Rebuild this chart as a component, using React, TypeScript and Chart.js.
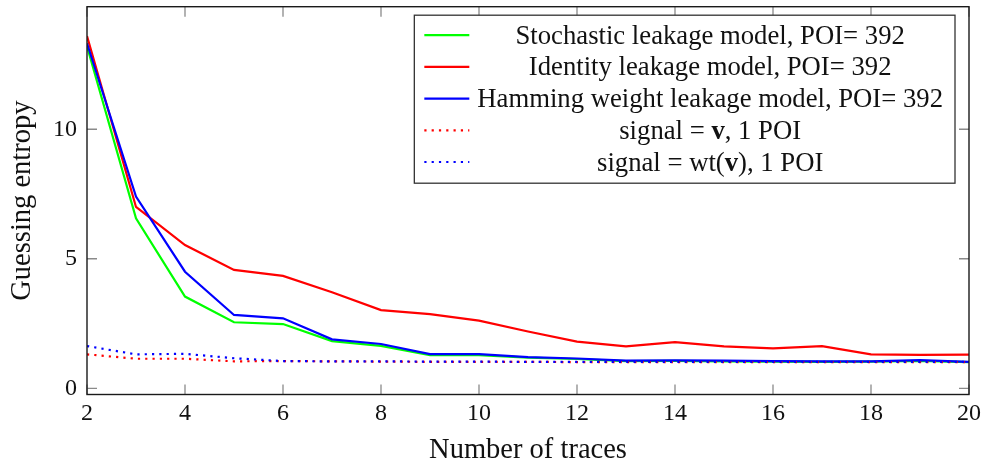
import React, { useEffect, useRef } from 'react';
import { Chart, registerables } from 'chart.js';

Chart.register(...registerables);

// ---- data ----
const traces = [2, 3, 4, 5, 6, 7, 8, 9, 10, 11, 12, 13, 14, 15, 16, 17, 18, 19, 20];
const stochastic = [13.2, 6.56, 3.54, 2.55, 2.48, 1.82, 1.64, 1.28, 1.28, 1.18, 1.13, 1.05, 1.06, 1.04, 1.03, 1.02, 1.03, 1.06, 1.01];
const identity = [13.6, 7.0, 5.53, 4.57, 4.34, 3.71, 3.02, 2.86, 2.61, 2.19, 1.8, 1.62, 1.78, 1.62, 1.54, 1.63, 1.31, 1.29, 1.3];
const hamming = [13.32, 7.4, 4.5, 2.83, 2.7, 1.89, 1.71, 1.32, 1.32, 1.2, 1.15, 1.07, 1.08, 1.07, 1.05, 1.04, 1.04, 1.09, 1.02];
const signalV = [1.31, 1.14, 1.14, 1.04, 1.05, 1.04, 1.03, 1.02, 1.02, 1.02, 1.01, 1.01, 1.01, 1.01, 1.01, 1.01, 1.01, 1.01, 1.01];
const signalWt = [1.63, 1.31, 1.33, 1.16, 1.05, 1.04, 1.04, 1.03, 1.03, 1.02, 1.02, 1.02, 1.02, 1.02, 1.02, 1.02, 1.02, 1.02, 1.02];
const seriesLabels = [
  'Stochastic leakage model, POI= 392',
  'Identity leakage model, POI= 392',
  'Hamming weight leakage model, POI= 392',
  'signal = **v**, 1 POI',
  'signal = wt(**v**), 1 POI',
];
const xTickValues = [2, 4, 6, 8, 10, 12, 14, 16, 18, 20];
const yTickValues = [0, 5, 10];
const xTitle = 'Number of traces';
const yTitle = 'Guessing entropy';

const FONT = '"Liberation Serif", "Times New Roman", serif';
const TEXT = '#111';

function segments(label: string) {
  return label.split('**').map((t, i) => ({ text: t, bold: i % 2 === 1 }));
}

const framePlugin = {
  id: 'pgfFrame',
  afterDatasetsDraw(chart: any) {
    const { ctx, chartArea: a, scales } = chart;
    ctx.save();
    ctx.strokeStyle = '#8a8a8a';
    ctx.lineWidth = 1.3;
    const len = 10;
    scales.x.ticks.forEach((t: any) => {
      const px = scales.x.getPixelForValue(t.value);
      ctx.beginPath();
      ctx.moveTo(px, a.bottom);
      ctx.lineTo(px, a.bottom - len);
      ctx.moveTo(px, a.top);
      ctx.lineTo(px, a.top + len);
      ctx.stroke();
    });
    scales.y.ticks.forEach((t: any) => {
      const py = scales.y.getPixelForValue(t.value);
      ctx.beginPath();
      ctx.moveTo(a.left, py);
      ctx.lineTo(a.left + len, py);
      ctx.moveTo(a.right, py);
      ctx.lineTo(a.right - len, py);
      ctx.stroke();
    });
    ctx.strokeStyle = '#1a1a1a';
    ctx.lineWidth = 1.4;
    ctx.strokeRect(a.left, a.top, a.right - a.left, a.bottom - a.top);
    ctx.restore();
  },
};

const legendPlugin = {
  id: 'pgfLegend',
  afterDraw(chart: any) {
    const { ctx, chartArea: a } = chart;
    const size = 26.7;
    const fN = `${size}px ${FONT}`;
    const fB = `bold ${size}px ${FONT}`;
    ctx.save();
    const rows = chart.data.datasets.map((ds: any) => {
      const segs = segments(ds.label);
      let w = 0;
      const parts = segs.map((s) => {
        ctx.font = s.bold ? fB : fN;
        const sw = ctx.measureText(s.text).width;
        const p = { ...s, w: sw };
        w += sw;
        return p;
      });
      return { ds, parts, w };
    });
    const maxW = Math.max(...rows.map((r: any) => r.w));
    const padL = 10;
    const sampleW = 45;
    const gap = 8;
    const padR = 12;
    const boxW = padL + sampleW + gap + maxW + padR;
    const boxRight = a.right - 14;
    const boxLeft = boxRight - boxW;
    const boxTop = a.top + 8.5;
    const rowH = 31.7;
    const boxH = 168;
    ctx.fillStyle = '#fff';
    ctx.fillRect(boxLeft, boxTop, boxW, boxH);
    ctx.strokeStyle = '#333';
    ctx.lineWidth = 1.3;
    ctx.strokeRect(boxLeft, boxTop, boxW, boxH);
    const textCenter = boxLeft + padL + sampleW + gap + maxW / 2;
    rows.forEach((r: any, i: number) => {
      const y = boxTop + 20 + i * rowH;
      ctx.strokeStyle = r.ds.borderColor;
      ctx.lineWidth = r.ds.borderWidth;
      ctx.setLineDash(r.ds.borderDash || []);
      ctx.beginPath();
      ctx.moveTo(boxLeft + padL, y);
      ctx.lineTo(boxLeft + padL + sampleW, y);
      ctx.stroke();
      ctx.setLineDash([]);
      ctx.fillStyle = TEXT;
      ctx.textBaseline = 'alphabetic';
      ctx.textAlign = 'left';
      let x = textCenter - r.w / 2;
      r.parts.forEach((p: any) => {
        ctx.font = p.bold ? fB : fN;
        ctx.fillText(p.text, x, y + 8.5);
        x += p.w;
      });
    });
    ctx.restore();
  },
};

export default function App() {
  const ref = useRef<HTMLCanvasElement | null>(null);
  useEffect(() => {
    if (!ref.current) return;
    const mk = (vals: number[]) => traces.map((x, i) => ({ x, y: vals[i] }));
    const colors = ['#00ff00', '#ff0000', '#0000ff', '#ff0000', '#0000ff'];
    const all = [stochastic, identity, hamming, signalV, signalWt];
    const datasets = all.map((vals, i) => ({
      label: seriesLabels[i],
      data: mk(vals),
      borderColor: colors[i],
      backgroundColor: colors[i],
      borderWidth: 2.2,
      borderDash: i >= 3 ? [2.2, 5.1] : [],
      pointRadius: 0,
      tension: 0,
      fill: false,
      order: 4 - i,
    }));
    const chart = new Chart(ref.current, {
      type: 'line',
      data: { datasets },
      plugins: [framePlugin, legendPlugin],
      options: {
        animation: false,
        responsive: false,
        devicePixelRatio: 1,
        layout: { padding: { top: 6.7, right: 15, left: 0, bottom: 0 } },
        plugins: { legend: { display: false }, tooltip: { enabled: false } },
        scales: {
          x: {
            type: 'linear',
            min: 2,
            max: 20,
            grid: { display: false, drawTicks: false },
            border: { display: false },
            afterBuildTicks: (s: any) => {
              s.ticks = xTickValues.map((v) => ({ value: v }));
            },
            afterFit: (s: any) => {
              s.height = 67.5;
              s.paddingLeft = 0;
              s.paddingRight = 0;
            },
            ticks: { font: { family: FONT, size: 24 }, color: TEXT, padding: 5, maxRotation: 0 },
            title: {
              display: true,
              text: xTitle,
              color: TEXT,
              font: { family: FONT, size: 28.5, lineHeight: 1 },
              padding: { top: 0, bottom: -3 },
            },
          },
          y: {
            type: 'linear',
            min: -0.24,
            max: 14.73,
            grid: { display: false, drawTicks: false },
            border: { display: false },
            afterBuildTicks: (s: any) => {
              s.ticks = yTickValues.map((v) => ({ value: v }));
            },
            afterFit: (s: any) => {
              s.width = 87;
              s.paddingTop = 0;
              s.paddingBottom = 0;
            },
            ticks: { font: { family: FONT, size: 24 }, color: TEXT, padding: 10 },
            title: {
              display: true,
              text: yTitle,
              color: TEXT,
              font: { family: FONT, size: 28.5, lineHeight: 1.2 },
              padding: { top: 5, bottom: 0 },
            },
          },
        },
      },
    });
    return () => chart.destroy();
  }, []);
  return (
    <div style={{ position: 'absolute', left: 0, top: 0, width: 984, height: 462, background: '#fff' }}>
      <canvas ref={ref} width={984} height={462} style={{ display: 'block' }} />
    </div>
  );
}
